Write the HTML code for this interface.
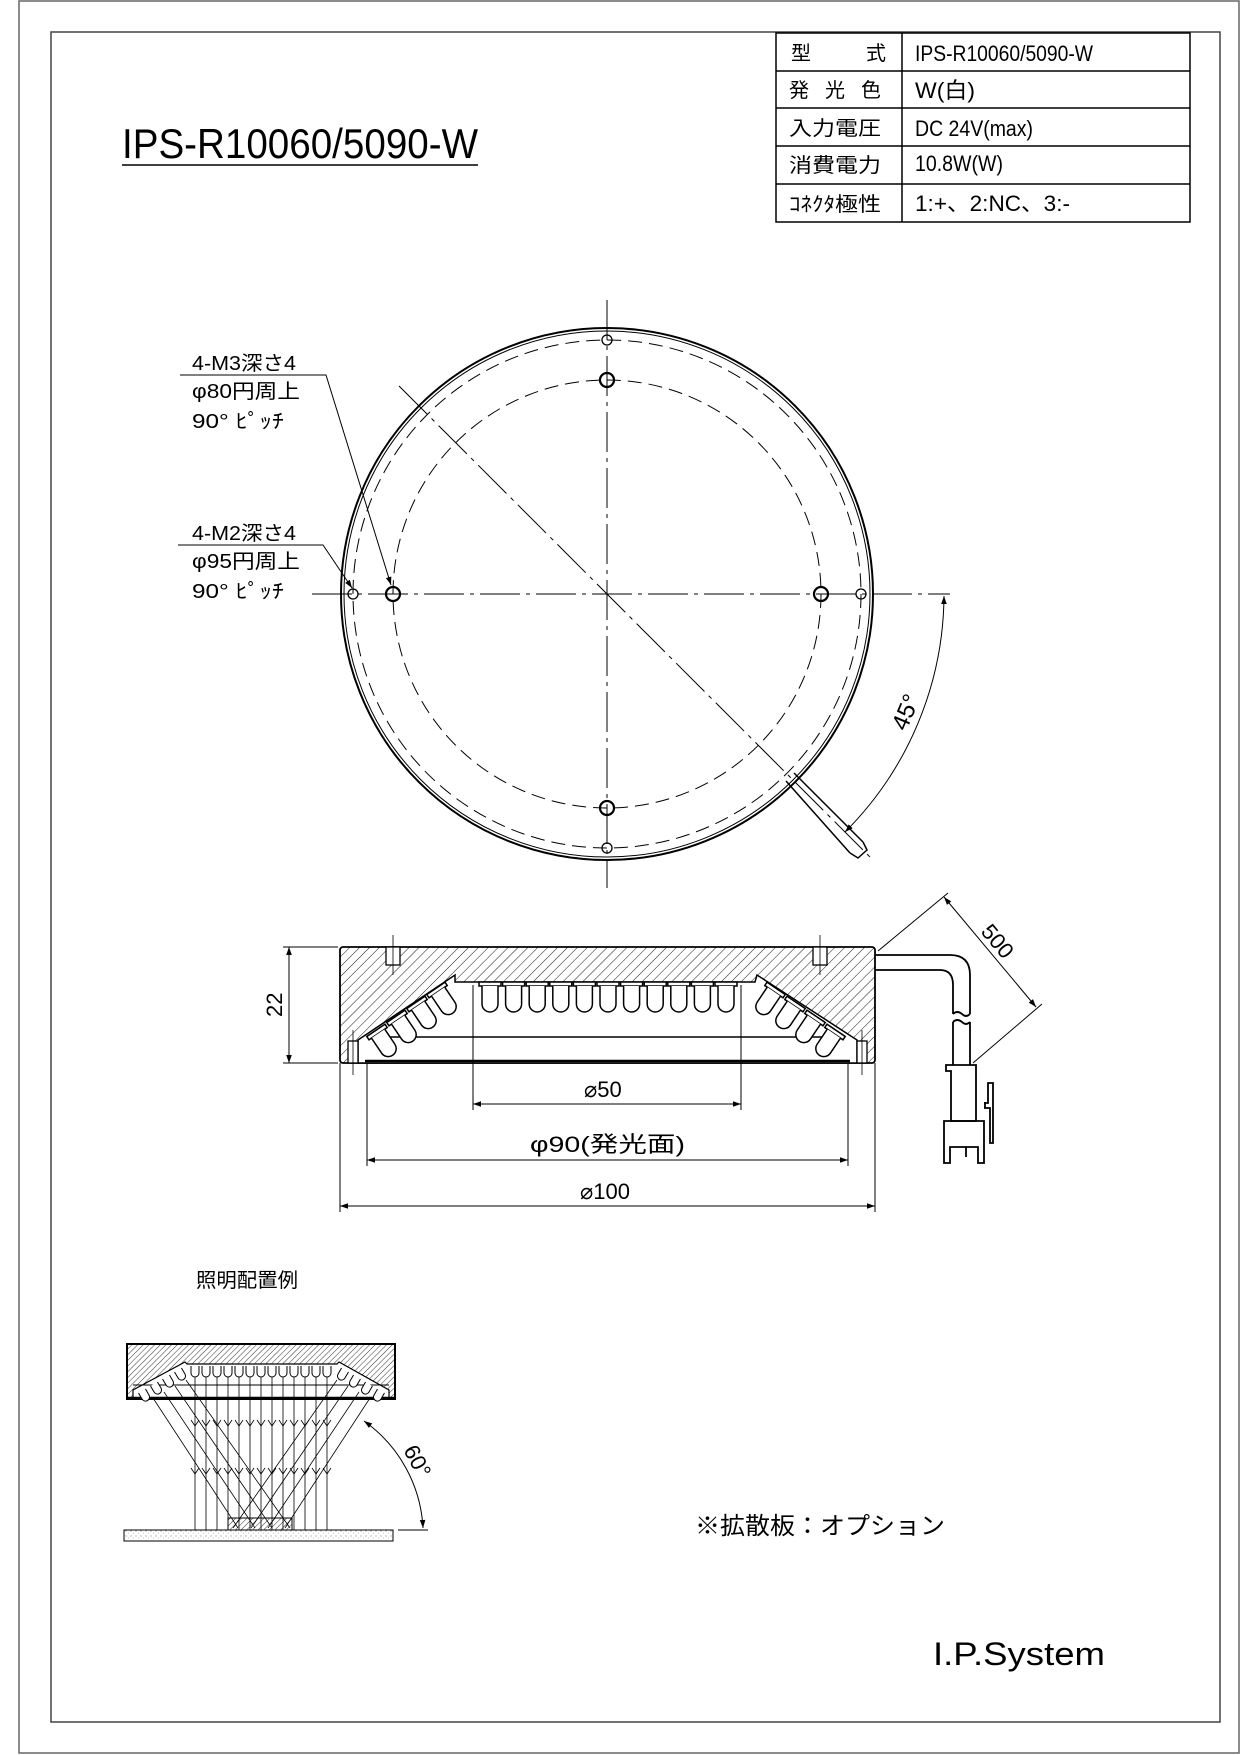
<!DOCTYPE html>
<html><head><meta charset="utf-8"><style>
html,body{margin:0;padding:0;background:#fff;}
svg{display:block;}
text{font-family:"Liberation Sans","Noto Sans CJK JP",sans-serif;fill:#000;}
</style></head><body>
<svg width="1240" height="1755" viewBox="0 0 1240 1755" xmlns="http://www.w3.org/2000/svg">
<defs>
<pattern id="h" width="7" height="7" patternUnits="userSpaceOnUse" patternTransform="rotate(45)">
<line x1="0" y1="0" x2="0" y2="7" stroke="#000" stroke-width="0.9"/></pattern>
<pattern id="h2" width="4" height="4" patternUnits="userSpaceOnUse" patternTransform="rotate(45)">
<line x1="0" y1="0" x2="0" y2="4" stroke="#000" stroke-width="0.8"/></pattern>
<pattern id="dot" width="5" height="5" patternUnits="userSpaceOnUse">
<rect width="5" height="5" fill="#fff"/><circle cx="1" cy="1" r="0.6" fill="#888"/><circle cx="3.5" cy="3" r="0.5" fill="#aaa"/></pattern>
<marker id="a" viewBox="0 0 10 10" refX="10" refY="5" markerWidth="14" markerHeight="8" markerUnits="userSpaceOnUse" orient="auto-start-reverse"><path d="M0,1.5 L10,5 L0,8.5 z" fill="#000"/></marker>
<g id="led"><rect x="-11" y="-2" width="22" height="4"/><path d="M-8,2 V20 A8,8 0 0 0 8,20 V2"/></g>
<path id="sl" d="M-4,0 V7 A4,4 0 0 0 4,7 V0"/>
</defs>
<!-- frames -->
<rect x="19" y="1" width="1220" height="1752" fill="none" stroke="#666" stroke-width="1.5"/>
<rect x="51" y="32" width="1169" height="1690" fill="none" stroke="#444" stroke-width="1.5"/>

<!-- title -->
<text x="122" y="158" font-size="42" textLength="356" lengthAdjust="spacingAndGlyphs">IPS-R10060/5090-W</text>
<line x1="122" y1="165" x2="478" y2="165" stroke="#000" stroke-width="1.5"/>

<!-- table -->
<g stroke="#000" stroke-width="1.5" fill="none">
<rect x="776" y="33" width="414" height="189"/>
<line x1="902" y1="33" x2="902" y2="222"/>
<line x1="776" y1="71" x2="1190" y2="71"/><line x1="776" y1="108" x2="1190" y2="108"/>
<line x1="776" y1="146" x2="1190" y2="146"/><line x1="776" y1="184" x2="1190" y2="184"/>
</g>
<g font-size="20">
<text x="791" y="60">型</text><text x="866" y="60">式</text>
<text x="789" y="97" textLength="92" lengthAdjust="spacing">発 光 色</text>
<text x="789" y="135" textLength="92" lengthAdjust="spacingAndGlyphs">入力電圧</text>
<text x="789" y="172" textLength="92" lengthAdjust="spacingAndGlyphs">消費電力</text>
<text x="789" y="211" textLength="92" lengthAdjust="spacingAndGlyphs">ｺﾈｸﾀ極性</text>
<text x="915" y="61" font-size="22" textLength="178" lengthAdjust="spacingAndGlyphs">IPS-R10060/5090-W</text>
<text x="915" y="98" font-size="22" textLength="60" lengthAdjust="spacingAndGlyphs">W(白)</text>
<text x="915" y="136" font-size="22" textLength="118" lengthAdjust="spacingAndGlyphs">DC 24V(max)</text>
<text x="915" y="171" font-size="22" textLength="88" lengthAdjust="spacingAndGlyphs">10.8W(W)</text>
<text x="915" y="211" font-size="22" textLength="155" lengthAdjust="spacingAndGlyphs">1:+、2:NC、3:-</text>
</g>

<!-- top view -->
<g fill="none" stroke="#000">
<circle cx="607" cy="594" r="266" stroke-width="2"/>
<circle cx="607" cy="594" r="263" stroke-width="1"/>
<circle cx="607" cy="594" r="254" stroke-width="1" stroke-dasharray="14,7"/>
<circle cx="607" cy="594" r="214" stroke-width="1" stroke-dasharray="14,7"/>
<line x1="607" y1="300" x2="607" y2="888" stroke-width="1" stroke-dasharray="40,6,4,6"/>
<line x1="312" y1="594" x2="950" y2="594" stroke-width="1" stroke-dasharray="40,6,4,6"/>
<line x1="399" y1="386" x2="872" y2="859" stroke-width="1" stroke-dasharray="40,6,4,6"/>
<circle cx="607" cy="340" r="5" stroke-width="1.3"/><circle cx="607" cy="848" r="5" stroke-width="1.3"/>
<circle cx="353" cy="594" r="5" stroke-width="1.3"/><circle cx="861" cy="594" r="5" stroke-width="1.3"/>
<circle cx="607" cy="380" r="7" stroke-width="2.2"/><circle cx="607" cy="808" r="7" stroke-width="2.2"/>
<circle cx="393" cy="594" r="7" stroke-width="2.2"/><circle cx="821" cy="594" r="7" stroke-width="2.2"/>
<path d="M794,773 L863,842 M786,781 L850,853" stroke-width="1.5"/>
<path d="M863,842 L867,850 L858,858 L850,853" stroke-width="1.5"/>
<path d="M944,596 A337,337 0 0 1 845,832" stroke-width="1" marker-start="url(#a)" marker-end="url(#a)"/>
<polyline points="180,375 326,375 391,585" stroke-width="1" marker-end="url(#a)"/>
<polyline points="178,545 323,545 352,588" stroke-width="1" marker-end="url(#a)"/>
</g>
<text x="0" y="0" font-size="24" transform="translate(906,732) rotate(-67)">45°</text>
<g font-size="20">
<text x="192" y="370" textLength="104" lengthAdjust="spacingAndGlyphs">4-M3深さ4</text>
<text x="192" y="398" textLength="108" lengthAdjust="spacingAndGlyphs">φ80円周上</text>
<text x="192" y="428" textLength="92" lengthAdjust="spacingAndGlyphs">90° ﾋﾟｯﾁ</text>
<text x="192" y="540" textLength="104" lengthAdjust="spacingAndGlyphs">4-M2深さ4</text>
<text x="192" y="568" textLength="108" lengthAdjust="spacingAndGlyphs">φ95円周上</text>
<text x="192" y="598" textLength="92" lengthAdjust="spacingAndGlyphs">90° ﾋﾟｯﾁ</text>
</g>

<!-- side view -->
<g stroke="#000" fill="none">
<rect x="340" y="947" width="535" height="116" rx="3" fill="url(#h)" stroke-width="1.8"/>
<polygon points="358,1063 358,1040 455,975 455,982 755,982 757,975 857,1040 857,1063" fill="#fff" stroke-width="1.5"/>
<line x1="380" y1="1037" x2="835" y2="1037" stroke-width="1.5"/>
<line x1="365" y1="1061" x2="850" y2="1061" stroke-width="2.5"/>
<rect x="348" y="1041" width="10" height="22" fill="#fff" stroke-width="1.3"/>
<rect x="857" y="1041" width="10" height="22" fill="#fff" stroke-width="1.3"/>
<rect x="386" y="947" width="14" height="18" fill="#fff" stroke-width="1.3"/>
<rect x="813" y="947" width="14" height="18" fill="#fff" stroke-width="1.3"/>
<line x1="393" y1="935" x2="393" y2="975" stroke-width="0.8"/><line x1="820" y1="935" x2="820" y2="975" stroke-width="0.8"/>
<line x1="353" y1="1030" x2="353" y2="1075" stroke-width="0.8"/><line x1="862" y1="1030" x2="862" y2="1075" stroke-width="0.8"/>
</g>
<g stroke="#000" fill="#fff" stroke-width="1.5">
<use href="#led" x="490" y="984"/><use href="#led" x="513.6" y="984"/><use href="#led" x="537.2" y="984"/><use href="#led" x="560.8" y="984"/><use href="#led" x="584.4" y="984"/><use href="#led" x="608" y="984"/><use href="#led" x="631.6" y="984"/><use href="#led" x="655.2" y="984"/><use href="#led" x="678.8" y="984"/><use href="#led" x="702.4" y="984"/><use href="#led" x="726" y="984"/>
<use href="#led" transform="translate(437,990) rotate(-34)"/><use href="#led" transform="translate(417,1004) rotate(-34)"/><use href="#led" transform="translate(397,1018) rotate(-34)"/><use href="#led" transform="translate(377,1032) rotate(-34)"/>
<use href="#led" transform="translate(775,990) rotate(34)"/><use href="#led" transform="translate(795,1004) rotate(34)"/><use href="#led" transform="translate(815,1018) rotate(34)"/><use href="#led" transform="translate(835,1032) rotate(34)"/>
</g>
<g stroke="#000" fill="none" stroke-width="1.8">
<path d="M875,955 H950 Q970,955 970,975 V1014 M875,970 H940 Q953,970 953,985 V1014"/>
<path d="M953,1014 q4,-4 9,0 q4,4 8,0 M953,1022 q4,-4 9,0 q4,4 8,0"/>
<path d="M953,1022 V1065 M970,1022 V1065"/>
<path d="M946,1065 H976 V1121 H951 V1071 H946 Z"/>
<path d="M944,1121 H984 V1163 H978 V1147 H950 V1163 H944 Z"/>
<path d="M985,1102 V1108 M984,1108 H990 V1143 H993 V1083 H988 V1103 H984"/>
<line x1="966" y1="1147" x2="966" y2="1157"/>
</g>
<g stroke="#000" fill="none" stroke-width="1">
<line x1="283" y1="947" x2="338" y2="947"/><line x1="283" y1="1063" x2="338" y2="1063"/>
<line x1="289" y1="947" x2="289" y2="1063" marker-start="url(#a)" marker-end="url(#a)"/>
<line x1="473" y1="985" x2="473" y2="1110"/><line x1="741" y1="985" x2="741" y2="1110"/>
<line x1="473" y1="1104" x2="741" y2="1104" marker-start="url(#a)" marker-end="url(#a)"/>
<line x1="367" y1="1063" x2="367" y2="1166"/><line x1="848" y1="1063" x2="848" y2="1166"/>
<line x1="367" y1="1160" x2="848" y2="1160" marker-start="url(#a)" marker-end="url(#a)"/>
<line x1="340" y1="1063" x2="340" y2="1212"/><line x1="875" y1="1063" x2="875" y2="1212"/>
<line x1="340" y1="1206" x2="875" y2="1206" marker-start="url(#a)" marker-end="url(#a)"/>
<line x1="878" y1="951" x2="948" y2="893"/><line x1="973" y1="1063" x2="1042" y2="1004"/>
<line x1="944" y1="897" x2="1036" y2="1007" marker-start="url(#a)" marker-end="url(#a)"/>
</g>
<text font-size="22" transform="translate(282,1017) rotate(-90)">22</text>
<text font-size="22" transform="translate(980,932) rotate(50)">500</text>
<text x="584" y="1097" font-size="22">⌀50</text>
<text x="530" y="1152" font-size="22" textLength="155" lengthAdjust="spacingAndGlyphs">φ90(発光面)</text>
<text x="580" y="1199" font-size="22">⌀100</text>

<!-- illumination example -->
<text x="196" y="1287" font-size="20" textLength="102" lengthAdjust="spacingAndGlyphs">照明配置例</text>
<g stroke="#000" fill="none">
<rect x="127" y="1344" width="268" height="55" fill="url(#h2)" stroke-width="2"/>
<polygon points="133,1398 133,1390 185,1362 187,1364 337,1364 339,1362 389,1390 389,1398" fill="#fff" stroke-width="1.2"/>
<line x1="133" y1="1385" x2="389" y2="1385" stroke-width="1"/>
<line x1="127" y1="1398" x2="395" y2="1398" stroke-width="2.5"/>
</g>
<g stroke="#000" fill="#fff" stroke-width="1">
<use href="#sl" x="195" y="1366"/><use href="#sl" x="206" y="1366"/><use href="#sl" x="217" y="1366"/><use href="#sl" x="228" y="1366"/><use href="#sl" x="239" y="1366"/><use href="#sl" x="250" y="1366"/><use href="#sl" x="261" y="1366"/><use href="#sl" x="272" y="1366"/><use href="#sl" x="283" y="1366"/><use href="#sl" x="294" y="1366"/><use href="#sl" x="305" y="1366"/><use href="#sl" x="316" y="1366"/><use href="#sl" x="327" y="1366"/>
<use href="#sl" transform="translate(178,1370) rotate(-30)"/><use href="#sl" transform="translate(166,1377) rotate(-30)"/><use href="#sl" transform="translate(154,1384) rotate(-30)"/><use href="#sl" transform="translate(142,1391) rotate(-30)"/>
<use href="#sl" transform="translate(345,1370) rotate(30)"/><use href="#sl" transform="translate(357,1377) rotate(30)"/><use href="#sl" transform="translate(369,1384) rotate(30)"/><use href="#sl" transform="translate(381,1391) rotate(30)"/>
</g>
<g stroke="#000" stroke-width="0.8" fill="none">
<path d="M195,1377V1530M206,1377V1530M217,1377V1530M228,1377V1530M239,1377V1530M250,1377V1530M261,1377V1530M272,1377V1530M283,1377V1530M294,1377V1530M305,1377V1530M316,1377V1530M327,1377V1530"/>
<path d="M153,1398 L238,1528 M164,1392 L255,1528 M175,1386 L272,1528 M186,1380 L290,1528 M370,1398 L285,1528 M359,1392 L268,1528 M348,1386 L251,1528 M337,1380 L233,1528"/>
<path d="M191,1420l4,6l4,-6M202,1420l4,6l4,-6M213,1420l4,6l4,-6M224,1420l4,6l4,-6M235,1420l4,6l4,-6M246,1420l4,6l4,-6M257,1420l4,6l4,-6M268,1420l4,6l4,-6M279,1420l4,6l4,-6M290,1420l4,6l4,-6M301,1420l4,6l4,-6M312,1420l4,6l4,-6M323,1420l4,6l4,-6"/>
<path d="M191,1468l4,6l4,-6M202,1468l4,6l4,-6M213,1468l4,6l4,-6M224,1468l4,6l4,-6M235,1468l4,6l4,-6M246,1468l4,6l4,-6M257,1468l4,6l4,-6M268,1468l4,6l4,-6M279,1468l4,6l4,-6M290,1468l4,6l4,-6M301,1468l4,6l4,-6M312,1468l4,6l4,-6M323,1468l4,6l4,-6"/>
</g>
<rect x="228" y="1518" width="64" height="12" fill="url(#h2)" stroke="#000" stroke-width="1"/>
<rect x="124" y="1530" width="269" height="11" fill="url(#dot)" stroke="#000" stroke-width="1"/>
<line x1="398" y1="1530" x2="428" y2="1530" stroke="#000" stroke-width="1"/>
<path d="M364,1421 A140,140 0 0 1 423,1528" fill="none" stroke="#000" stroke-width="1" marker-start="url(#a)" marker-end="url(#a)"/>
<text font-size="22" transform="translate(403,1450) rotate(62)">60°</text>

<text x="695" y="1534" font-size="24" textLength="250" lengthAdjust="spacingAndGlyphs">※拡散板：オプション</text>
<text x="933" y="1665" font-size="32" textLength="172" lengthAdjust="spacingAndGlyphs">I.P.System</text>
</svg>
</body></html>
